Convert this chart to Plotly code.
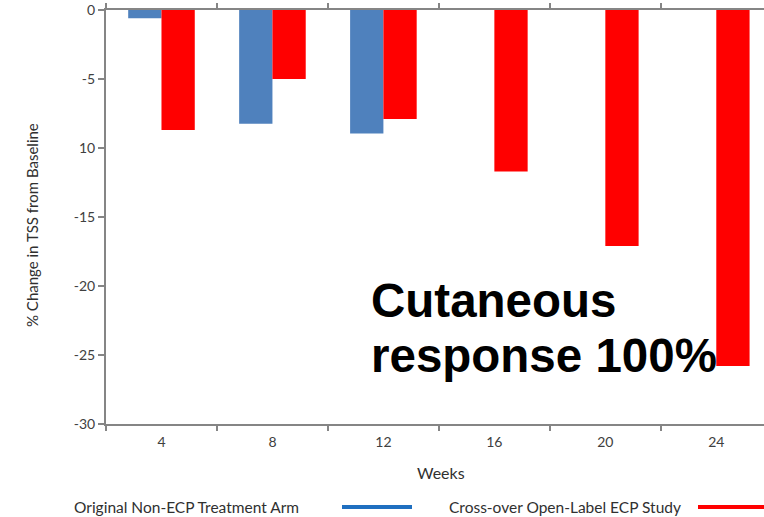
import plotly.graph_objects as go

weeks = ["4", "8", "12", "16", "20", "24"]
original_arm = [-0.6, -8.25, -8.95, None, None, None]
crossover_ecp = [-8.7, -5.0, -7.9, -11.7, -17.1, -25.8]
y_tickvals = [0, -5, -10, -15, -20, -25, -30]
y_ticktext = ["0", "-5", "10", "-15", "-20", "-25", "-30"]

W, H = 764, 517
L, R, T, B = 106, 0, 10, 93
pw = W - L - R
ph = H - T - B

def px(x):
    return (x - L) / pw

def py(y):
    return (H - B - y) / ph

fig = go.Figure()
fig.add_trace(go.Bar(x=weeks, y=original_arm, name="Original Non-ECP Treatment Arm",
                     marker=dict(color="#4F81BD", line=dict(width=0))))
fig.add_trace(go.Bar(x=weeks, y=crossover_ecp, name="Cross-over Open-Label ECP Study",
                     marker=dict(color="#FF0000", line=dict(width=0))))

axis_col = "#858585"
tick_font = dict(family="Lato, Open Sans, sans-serif", size=14, color="#404040")

fig.update_layout(
    width=W, height=H,
    margin=dict(l=L, r=R, t=T, b=B, pad=0),
    paper_bgcolor="white", plot_bgcolor="white",
    barmode="group", bargap=0.4, bargroupgap=0,
    showlegend=False,
    xaxis=dict(type="category", range=[-0.5, 5.43], showline=True, linecolor=axis_col,
               linewidth=2, mirror="ticks", ticks="outside", tickson="boundaries",
               ticklen=5, tickcolor=axis_col, tickwidth=1.5, showgrid=False,
               tickfont=tick_font, zeroline=False, ticklabelstandoff=4),
    yaxis=dict(range=[-30, 0], showline=True, linecolor=axis_col, linewidth=2,
               ticks="outside", ticklen=6, tickcolor=axis_col, tickwidth=1.5,
               tickvals=y_tickvals, ticktext=y_ticktext, showgrid=False,
               zeroline=False, tickfont=tick_font),
)

txt = "#303030"
ann = []
ann.append(dict(text="% Change in TSS from Baseline", textangle=-90, x=px(32), y=py(225),
                xref="paper", yref="paper", xanchor="center", yanchor="middle",
                showarrow=False, font=dict(family="Lato, sans-serif", size=15, color=txt)))
ann.append(dict(text="Weeks", x=px(441), y=py(472), xref="paper", yref="paper",
                xanchor="center", yanchor="middle", showarrow=False,
                font=dict(family="Lato, sans-serif", size=16, color=txt)))
ann.append(dict(text="Original Non-ECP Treatment Arm", x=px(72), y=py(507), xref="paper",
                yref="paper", xanchor="left", yanchor="middle", showarrow=False,
                font=dict(family="Lato, sans-serif", size=15.5, color=txt)))
ann.append(dict(text="Cross-over Open-Label ECP Study", x=px(447), y=py(507), xref="paper",
                yref="paper", xanchor="left", yanchor="middle", showarrow=False,
                font=dict(family="Lato, sans-serif", size=15.5, color=txt)))
big = dict(family="Liberation Sans, Arial, sans-serif", size=47.5, color="black")
ann.append(dict(text="<b>Cutaneous</b>", x=px(369), y=py(300), xref="paper", yref="paper",
                xanchor="left", yanchor="middle", showarrow=False, font=big))
ann.append(dict(text="<b>response 100%</b>", x=px(369), y=py(355), xref="paper", yref="paper",
                xanchor="left", yanchor="middle", showarrow=False, font=big))
fig.update_layout(annotations=ann)

fig.add_shape(type="line", xref="paper", yref="paper", x0=px(342), x1=px(412),
              y0=py(507), y1=py(507), line=dict(color="#1F6FC0", width=4))
fig.add_shape(type="line", xref="paper", yref="paper", x0=px(698), x1=px(764),
              y0=py(507), y1=py(507), line=dict(color="#FF0000", width=4))

fig.write_html("out.html", config={"displayModeBar": False},
               post_script="document.body.style.margin='0px';document.body.style.overflow='hidden';")
